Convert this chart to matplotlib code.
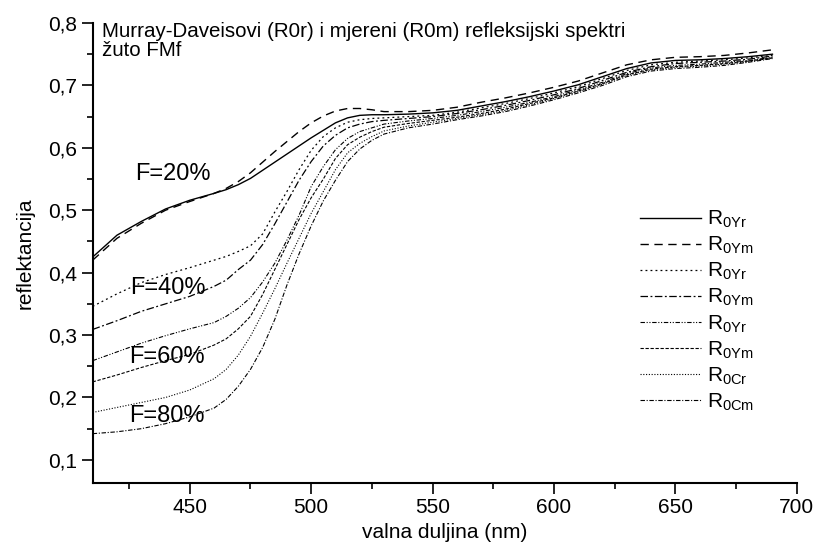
import matplotlib
matplotlib.use("Agg")
import matplotlib.pyplot as plt
from matplotlib.ticker import MultipleLocator, FixedLocator

plt.rcParams['font.family'] = ['Liberation Sans', 'DejaVu Sans']
plt.rcParams['mathtext.fontset'] = 'custom'
plt.rcParams['mathtext.rm'] = 'Liberation Sans'
plt.rcParams['mathtext.it'] = 'Liberation Sans:italic'

# wavelength grid (nm)
wl = [410, 420, 430, 440, 450, 460, 465, 470, 475, 480, 485, 490, 495, 500, 505, 510, 515, 520, 525,
      530, 540, 550, 560, 570, 580, 590, 600, 610, 620, 630, 640, 650, 660, 670, 680, 690]

# F = 20 %
r20_r = [0.425, 0.460, 0.482, 0.502, 0.516, 0.527, 0.533, 0.541, 0.551, 0.564, 0.577, 0.590, 0.603, 0.616, 0.628, 0.640, 0.648, 0.652, 0.653,
         0.653, 0.654, 0.656, 0.660, 0.667, 0.674, 0.682, 0.691, 0.701, 0.714, 0.727, 0.736, 0.740, 0.741, 0.743, 0.746, 0.750]
r20_m = [0.420, 0.455, 0.479, 0.500, 0.514, 0.527, 0.535, 0.546, 0.560, 0.577, 0.594, 0.610, 0.626, 0.640, 0.651, 0.659, 0.663, 0.663, 0.661,
         0.658, 0.658, 0.660, 0.665, 0.673, 0.680, 0.688, 0.697, 0.707, 0.720, 0.733, 0.741, 0.745, 0.746, 0.748, 0.752, 0.757]
# F = 40 %
r40_r = [0.346, 0.366, 0.384, 0.397, 0.408, 0.420, 0.426, 0.434, 0.443, 0.462, 0.497, 0.530, 0.565, 0.596, 0.618, 0.632, 0.641, 0.645, 0.647,
         0.648, 0.650, 0.652, 0.657, 0.664, 0.671, 0.679, 0.688, 0.698, 0.711, 0.724, 0.733, 0.737, 0.739, 0.741, 0.744, 0.748]
r40_m = [0.309, 0.323, 0.338, 0.350, 0.362, 0.378, 0.388, 0.405, 0.420, 0.445, 0.478, 0.513, 0.548, 0.578, 0.603, 0.620, 0.632, 0.638, 0.642,
         0.644, 0.647, 0.650, 0.655, 0.661, 0.668, 0.676, 0.685, 0.695, 0.708, 0.721, 0.730, 0.735, 0.737, 0.739, 0.742, 0.747]
# F = 60 %
r60_r = [0.259, 0.273, 0.287, 0.299, 0.310, 0.320, 0.330, 0.343, 0.360, 0.385, 0.415, 0.452, 0.492, 0.538, 0.570, 0.597, 0.615, 0.626, 0.632,
         0.638, 0.643, 0.647, 0.652, 0.658, 0.665, 0.673, 0.682, 0.693, 0.705, 0.719, 0.728, 0.732, 0.734, 0.737, 0.740, 0.745]
r60_m = [0.225, 0.236, 0.248, 0.259, 0.269, 0.284, 0.294, 0.310, 0.330, 0.365, 0.405, 0.445, 0.485, 0.520, 0.550, 0.583, 0.605, 0.617, 0.626,
         0.633, 0.639, 0.644, 0.649, 0.655, 0.662, 0.671, 0.680, 0.691, 0.703, 0.717, 0.726, 0.730, 0.732, 0.735, 0.739, 0.744]
# F = 80 %
r80_r = [0.176, 0.184, 0.192, 0.200, 0.212, 0.230, 0.245, 0.268, 0.298, 0.335, 0.374, 0.415, 0.455, 0.495, 0.530, 0.565, 0.592, 0.607, 0.618,
         0.627, 0.635, 0.641, 0.647, 0.653, 0.660, 0.669, 0.679, 0.690, 0.702, 0.716, 0.725, 0.729, 0.731, 0.734, 0.738, 0.744]
r80_m = [0.142, 0.145, 0.150, 0.158, 0.169, 0.183, 0.197, 0.218, 0.245, 0.280, 0.325, 0.380, 0.430, 0.475, 0.515, 0.548, 0.578, 0.598, 0.612,
         0.622, 0.632, 0.638, 0.645, 0.651, 0.658, 0.667, 0.677, 0.688, 0.700, 0.714, 0.723, 0.727, 0.729, 0.732, 0.737, 0.743]

series = [r20_r, r20_m, r40_r, r40_m, r60_r, r60_m, r80_r, r80_m]
labels = [r'$\mathrm{R}_{\mathrm{0Yr}}$', r'$\mathrm{R}_{\mathrm{0Ym}}$',
          r'$\mathrm{R}_{\mathrm{0Yr}}$', r'$\mathrm{R}_{\mathrm{0Ym}}$',
          r'$\mathrm{R}_{\mathrm{0Yr}}$', r'$\mathrm{R}_{\mathrm{0Ym}}$',
          r'$\mathrm{R}_{\mathrm{0Cr}}$', r'$\mathrm{R}_{\mathrm{0Cm}}$']
styles = ['-', (0, (6, 4)), (0, (1.5, 2.5)), (0, (6, 2, 1.5, 2)),
          (0, (4, 1.5, 1, 1.5, 1, 1.5)), (0, (3, 1.5)), (0, (1, 1.5)), (0, (4, 1.5, 1, 1.5))]
widths = [1.0, 1.0, 0.9, 0.9, 0.8, 0.8, 0.8, 0.8]

fam_text = ['F=20%', 'F=40%', 'F=60%', 'F=80%']
fam_pos = [(427.5, 0.558), (425.5, 0.375), (425, 0.265), (425, 0.170)]

yticks = [0.1, 0.2, 0.3, 0.4, 0.5, 0.6, 0.7, 0.8]
ytick_labels = ['0,1', '0,2', '0,3', '0,4', '0,5', '0,6', '0,7', '0,8']
xticks = [450, 500, 550, 600, 650, 700]

fig = plt.figure(figsize=(8.13, 5.46), dpi=100)
ax = fig.add_axes([0.114, 0.1154, 0.866, 0.8425])

for y, lab, ls, lw in zip(series, labels, styles, widths):
    ax.plot(wl, y, color='black', linestyle=ls, linewidth=lw, label=lab)

for t, (x, y) in zip(fam_text, fam_pos):
    ax.text(x, y, t, fontsize=17, va='center', ha='left')

ax.text(413.7, 0.801, 'Murray-Daveisovi (R0r) i mjereni (R0m) refleksijski spektri\nžuto FMf',
        fontsize=14.8, va='top', ha='left', linespacing=0.95)

ax.set_xlim(410, 700)
ax.set_ylim(0.063, 0.8)
ax.set_xticks(xticks)
ax.xaxis.set_minor_locator(MultipleLocator(25))
ax.yaxis.set_major_locator(FixedLocator(yticks))
ax.set_yticklabels(ytick_labels)
ax.yaxis.set_minor_locator(MultipleLocator(0.05))

for s in ['top', 'right']:
    ax.spines[s].set_visible(False)
for s in ['left', 'bottom']:
    ax.spines[s].set_linewidth(1.5)
ax.tick_params(which='major', direction='out', length=8, width=1.2, labelsize=15, pad=3)
ax.tick_params(which='minor', direction='out', length=4.5, width=1.2)

ax.set_xlabel('valna duljina (nm)', fontsize=15, labelpad=4)
ax.set_ylabel('reflektancija', fontsize=15, labelpad=10)

ax.legend(loc='upper left', bbox_to_anchor=(0.766, 0.614), frameon=False, fontsize=15,
          handlelength=2.9, handletextpad=0.3, labelspacing=0.23, borderaxespad=0)

fig.savefig('out.png', dpi=100)
